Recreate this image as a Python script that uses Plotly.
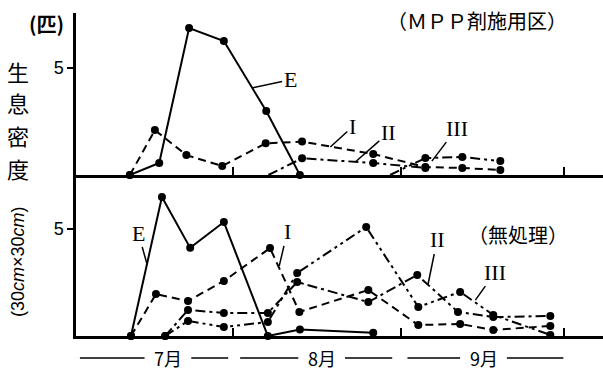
import plotly.graph_objects as go

# ---- data (x = day counted from 30 June, i.e. 31 = 31 July) ----
# MPP treated plot (upper panel)
top_E_x = [12.0, 17.4, 22.9, 29.3, 37.1, 43.3]
top_E_y = [0, 0.56, 6.87, 6.26, 2.99, 0]
top_I_x = [12.0, 16.6, 22.4, 29.0, 37.0, 43.7, 56.8, 66.4, 73.2, 80.2]
top_I_y = [0, 2.1, 0.93, 0.42, 1.48, 1.56, 0.98, 0.37, 0.33, 0.23]
top_II_x = [37.5, 43.7, 56.8, 66.4]
top_II_y = [0, 0.78, 0.56, 0.33]
top_III_x = [59.9, 66.4, 73.2, 80.2]
top_III_y = [0, 0.79, 0.84, 0.65]

# Untreated plot (lower panel)
bot_E_x = [12.2, 17.9, 23.1, 29.3, 37.4, 43.3, 56.8]
bot_E_y = [0, 6.47, 4.1, 5.3, 0, 0.3, 0.15]
bot_I_x = [12.2, 16.8, 22.7, 29.3, 37.8, 43.2, 55.9, 65.1, 72.8, 78.9, 89.4]
bot_I_y = [0, 1.95, 1.63, 2.56, 4.09, 1.12, 2.14, 0.51, 0.56, 0.28, 0.47]
bot_II_x = [18.5, 22.7, 29.3, 37.4, 42.8, 55.9, 64.9, 72.4, 78.9, 89.4]
bot_II_y = [0, 1.21, 1.07, 1.07, 2.51, 1.58, 2.84, 1.12, 0.88, 0.93]
bot_III_x = [18.5, 22.7, 29.3, 37.4, 42.8, 55.5, 65.1, 72.8, 78.9, 89.4]
bot_III_y = [0, 0.70, 0.42, 0.65, 2.93, 5.07, 1.35, 2.05, 0.98, 0.05]

month_labels = ["7月", "8月", "9月"]
month_ends = [31, 62, 92]
month_label_pos = [19.0, 47.3, 77.1]
month_span_start = [2.8, 32.3, 63.1]
month_span_end = [30.1, 60.3, 91.8]

series_styles = {
    "E": "solid",
    "I": "8px,5px",
    "II": "10px,4px,3px,4px",
    "III": "10px,4px,3px,4px,3px,4px",
}

fig = go.Figure()

def add(xs, ys, name, xa, ya, first_marker=True):
    # line part
    fig.add_trace(go.Scatter(
        x=xs, y=ys, mode="lines", name=name,
        xaxis=xa, yaxis=ya, cliponaxis=False,
        line=dict(color="black", width=2, dash=series_styles[name]),
        showlegend=False, hoverinfo="skip",
    ))
    mx = xs if first_marker else xs[1:]
    my_ = ys if first_marker else ys[1:]
    fig.add_trace(go.Scatter(
        x=mx, y=my_, mode="markers", name=name,
        xaxis=xa, yaxis=ya, cliponaxis=False,
        marker=dict(color="black", size=8, opacity=1, line=dict(width=0)),
        showlegend=False,
    ))

add(top_E_x, top_E_y, "E", "x2", "y")
add(top_I_x, top_I_y, "I", "x2", "y")
add(top_II_x, top_II_y, "II", "x2", "y", first_marker=False)
add(top_III_x, top_III_y, "III", "x2", "y", first_marker=False)
add(bot_E_x, bot_E_y, "E", "x", "y2")
add(bot_I_x, bot_I_y, "I", "x", "y2")
add(bot_II_x, bot_II_y, "II", "x", "y2")
add(bot_III_x, bot_III_y, "III", "x", "y2")

W, H = 603, 376
ML, MR, MT, MB = 76, 0, 13, 40
PW, PH = W - ML - MR, H - MT - MB
split = (336 - 175) / PH
xr = [2.08, 99.1]

xcommon = dict(range=xr, showgrid=False, zeroline=False, showline=True,
               linecolor="black", linewidth=3, ticks="inside", ticklen=8,
               tickwidth=1.5, tickcolor="black", tickvals=month_ends,
               showticklabels=False)
fig.update_layout(
    xaxis=dict(anchor="y2", **xcommon),
    xaxis2=dict(anchor="y", matches="x", **xcommon),
)
ycommon = dict(showgrid=False, zeroline=False, showline=True, linecolor="black",
               linewidth=2.5, ticks="outside", ticklen=6, tickwidth=1.5,
               tickcolor="black", tickvals=[5], ticktext=["5"],
               tickfont=dict(family="Liberation Sans", size=18, color="black"))
fig.update_layout(
    yaxis=dict(domain=[split, 1], range=[0, 7.57], anchor="x2", **ycommon),
    yaxis2=dict(domain=[0, split], range=[0, 7.49], anchor="x", **ycommon),
)

def px2paper(px, py):
    return (px - ML) / PW, (H - MB - py) / PH

ann = []
# unit and y title
x0, y0 = px2paper(46, 24)
ann.append(dict(x=x0, y=y0, text="<b>(匹)</b>", font=dict(size=20)))
for ch, py in zip("生息密度", [71, 102, 135, 168]):
    xx, yy = px2paper(18, py)
    ann.append(dict(x=xx, y=yy, text=ch, font=dict(size=22)))
xx, yy = px2paper(18, 262)
ann.append(dict(x=xx, y=yy, text="(30<i>cm</i>×30<i>cm</i>)", textangle=-90,
                font=dict(size=18, family="Liberation Sans")))
# panel titles
xx, yy = px2paper(477, 20)
ann.append(dict(x=xx, y=yy, text="（ＭＰＰ剤施用区）", font=dict(size=20)))
xx, yy = px2paper(518, 235)
ann.append(dict(x=xx, y=yy, text="（無処理）", font=dict(size=20)))
for a in ann:
    a.update(xref="paper", yref="paper", showarrow=False,
             xanchor="center", yanchor="middle")
    a.setdefault("font", {})
    a["font"].setdefault("family", "Noto Sans CJK JP")
    a["font"]["color"] = "black"

# series labels with leader lines
labels = [
    ("E", "x2", "y", 34.5, 4.07, 38, -8),
    ("I", "x2", "y", 48.9, 1.31, 22, -20),
    ("II", "x2", "y", 53.5, 0.61, 33, -29),
    ("III", "x2", "y", 67.6, 0.65, 25, -33),
    ("E", "x", "y2", 15.2, 3.30, -9, -32),
    ("I", "x", "y2", 39.5, 3.26, 8, -34),
    ("II", "x", "y2", 66.9, 2.42, 9, -44),
    ("III", "x", "y2", 75.6, 1.67, 20, -28),
]
for t, xa, ya, xv, yv, ax, ay in labels:
    ann.append(dict(x=xv, y=yv, xref=xa, yref=ya, text=t, showarrow=True,
                    arrowhead=0, arrowwidth=1.5, arrowcolor="black",
                    ax=ax, ay=ay, standoff=0,
                    font=dict(family="Liberation Serif", size=22, color="black")))

# month labels
my = -22 / PH
for lab, c in zip(month_labels, month_label_pos):
    ann.append(dict(x=c, y=my, xref="x", yref="paper", text=lab, showarrow=False,
                    xanchor="center", yanchor="middle",
                    font=dict(family="Noto Sans CJK JP", size=18, color="black")))

shapes = []
for c, s, e in zip(month_label_pos, month_span_start, month_span_end):
    for a, b in [(s, c - 4.3), (c + 4.3, e)]:
        shapes.append(dict(type="line", xref="x", yref="paper", x0=a, x1=b,
                           y0=my, y1=my, line=dict(color="black", width=1.5)))

fig.update_layout(
    width=W, height=H,
    margin=dict(l=ML, r=MR, t=MT, b=MB),
    paper_bgcolor="white", plot_bgcolor="white",
    annotations=ann, shapes=shapes,
    showlegend=False,
)

fig.write_html("out.html")
